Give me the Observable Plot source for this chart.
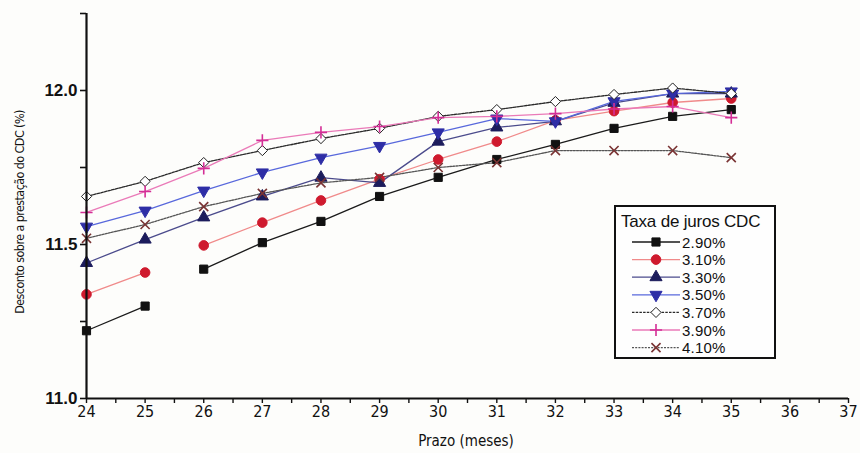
<!DOCTYPE html>
<html>
<head>
<meta charset="utf-8">
<script src="https://cdn.jsdelivr.net/npm/d3@7"></script>
<script src="https://cdn.jsdelivr.net/npm/@observablehq/plot@0.6"></script>
<style>
  html, body { margin: 0; padding: 0; background: #fdfdfb; }
  #wrap { position: relative; width: 860px; height: 453px; }
  #legend { position: absolute; left: 614px; top: 205px; }
</style>
</head>
<body>
<div id="wrap"></div>
<script>
// ---- data ----
const months = [24, 25, 26, 27, 28, 29, 30, 31, 32, 33, 34, 35];
const seriesNames = ["2.90%", "3.10%", "3.30%", "3.50%", "3.70%", "3.90%", "4.10%"];
const s290 = [11.22, 11.30, 11.42, 11.506, 11.575, 11.656, 11.718, 11.776, 11.825, 11.877, 11.916, 11.938];
const s310 = [11.338, 11.409, 11.497, 11.571, 11.643, 11.712, 11.776, 11.834, 11.903, 11.933, 11.961, 11.974];
const s330 = [11.44, 11.516, 11.588, 11.656, 11.717, 11.70, 11.834, 11.88, 11.90, 11.96, 11.99, 11.99];
const s350 = [11.558, 11.61, 11.675, 11.734, 11.782, 11.82, 11.864, 11.909, 11.90, 11.965, 11.99, 11.997];
const s370 = [11.656, 11.705, 11.766, 11.805, 11.844, 11.877, 11.916, 11.938, 11.964, 11.987, 12.008, 11.99];
const s390 = [11.604, 11.672, 11.747, 11.838, 11.864, 11.883, 11.912, 11.916, 11.925, 11.94, 11.948, 11.912];
const s410 = [11.52, 11.565, 11.623, 11.666, 11.70, 11.718, 11.75, 11.766, 11.805, 11.805, 11.805, 11.782];
const seriesValues = [s290, s310, s330, s350, s370, s390, s410];
// line breaks seen in the original (series, month after which the line is interrupted)
const gaps = [["2.90%", 25], ["3.10%", 25]];
const xTicks = [24, 25, 26, 27, 28, 29, 30, 31, 32, 33, 34, 35, 36, 37];
const yTicks = [11.0, 11.5, 12.0];
const legendTitle = "Taxa de juros CDC";
const xLabel = "Prazo (meses)";
const yLabel = "Desconto sobre a prestação do CDC (%)";

// ---- styles ----
const triangleDown = {
  draw(ctx, size) {
    const y = -Math.sqrt(size / (Math.sqrt(3) * 3));
    ctx.moveTo(0, -y * 2);
    ctx.lineTo(-Math.sqrt(3) * y, y);
    ctx.lineTo(Math.sqrt(3) * y, y);
    ctx.closePath();
  }
};
const styles = {
  "2.90%": {line: "#1a1a1a", dash: null, symbol: "square", fill: "#111", stroke: "#111", r: 4.6, d3sym: d3.symbolSquare},
  "3.10%": {line: "#f08a8a", dash: null, symbol: "circle", fill: "#cf1a2e", stroke: "#cf1a2e", r: 4.8, d3sym: d3.symbolCircle},
  "3.30%": {line: "#4b4b8c", dash: null, symbol: "triangle", fill: "#1c1c5c", stroke: "#1c1c5c", r: 4.5, d3sym: d3.symbolTriangle},
  "3.50%": {line: "#5868dc", dash: null, symbol: triangleDown, fill: "#2e2ea6", stroke: "#2e2ea6", r: 4.5, d3sym: triangleDown},
  "3.70%": {line: "#2a2a2a", dash: "2.5,1.2", symbol: "diamond2", fill: "white", stroke: "#222", r: 4.6, d3sym: d3.symbolDiamond2},
  "3.90%": {line: "#ea7ab8", dash: null, symbol: "plus", fill: "none", stroke: "#d42e96", r: 4.0, d3sym: d3.symbolPlus},
  "4.10%": {line: "#555", dash: "2,1.2", symbol: "times", fill: "none", stroke: "#7a3434", r: 4.2, d3sym: d3.symbolTimes}
};

// ---- rows ----
const rows = [];
seriesNames.forEach((name, si) => {
  let seg = 0;
  months.forEach((m, i) => {
    rows.push({series: name, x: m, y: seriesValues[si][i], seg: name + "#" + seg});
    if (gaps.some(([g, after]) => g === name && after === m)) seg++;
  });
});

const narrow = "'Liberation Sans Narrow', 'Arial Narrow', 'DejaVu Sans Condensed', sans-serif";
const sans = "'Liberation Sans', Arial, sans-serif";
const halves = d3.range(24, 37.01, 0.5);
const yMinor = [11.0, 11.25, 11.5, 11.75, 12.0, 12.25];

const marks = [];
// axis ticks
marks.push(Plot.axisX({ticks: halves, tickSize: 5, tickPadding: 2,
  tickFormat: d => Number.isInteger(d) ? String(d) : "",
  fontSize: 16, fontFamily: narrow, fill: "#111", stroke: "#111", strokeWidth: 1.4, label: null}));
marks.push(Plot.axisY({ticks: yMinor, tickSize: 6, tickPadding: 3,
  tickFormat: d => yTicks.includes(d) ? d3.format(".1f")(d) : "",
  fontSize: 17, fontWeight: "bold", fontFamily: sans,
  fill: "#111", stroke: "#111", strokeWidth: 1.6, label: null}));
// lines
seriesNames.forEach(name => {
  const st = styles[name];
  marks.push(Plot.line(rows.filter(d => d.series === name), {
    x: "x", y: "y", z: "seg", stroke: st.line, strokeWidth: 1.3,
    strokeDasharray: st.dash || undefined
  }));
});
// markers
seriesNames.forEach(name => {
  const st = styles[name];
  marks.push(Plot.dot(rows.filter(d => d.series === name), {
    x: "x", y: "y", symbol: st.symbol, r: st.r, fill: st.fill, stroke: st.stroke,
    strokeWidth: (st.fill === "none" ? 1.6 : 1.0)
  }));
});
// axis lines
marks.push(Plot.ruleX([24], {stroke: "#111", strokeWidth: 2.2}));
marks.push(Plot.ruleY([11], {stroke: "#111", strokeWidth: 2}));

const chart = Plot.plot({
  width: 860, height: 453,
  marginLeft: 86, marginRight: 12, marginTop: 13, marginBottom: 55,
  style: {background: "transparent", color: "#111", overflow: "visible"},
  x: {domain: [24, 37]},
  y: {domain: [11, 12.25]},
  marks
});
const wrap = document.getElementById("wrap");
wrap.appendChild(chart);

// axis titles as SVG text
const svg = d3.select(chart);
svg.append("text")
  .attr("x", 466).attr("y", 446).attr("text-anchor", "middle")
  .style("font-family", narrow).style("font-size", "15px").style("fill", "#111")
  .text(xLabel);
svg.append("text")
  .attr("transform", "translate(24,212) rotate(-90)").attr("text-anchor", "middle")
  .style("font-family", narrow).style("font-size", "12.5px").style("fill", "#111")
  .style("letter-spacing", "-0.6px")
  .text(yLabel);

// ---- legend ----
const lw = 162, lh = 154;
const leg = d3.select(wrap).append("svg").attr("id", "legend")
  .attr("width", lw).attr("height", lh);
leg.append("rect").attr("x", 1).attr("y", 1).attr("width", lw - 2).attr("height", lh - 2)
  .attr("fill", "#fefefe").attr("stroke", "#111").attr("stroke-width", 2);
leg.append("text").attr("x", 7).attr("y", 22)
  .style("font-family", sans).style("font-size", "17px")
  .style("letter-spacing", "-0.2px").style("fill", "#111").text(legendTitle);
seriesNames.forEach((name, i) => {
  const st = styles[name];
  const cy = 37 + i * 17.6;
  leg.append("line").attr("x1", 18).attr("x2", 66).attr("y1", cy).attr("y2", cy)
    .attr("stroke", st.line).attr("stroke-width", 1.3)
    .attr("stroke-dasharray", st.dash || null);
  leg.append("path").attr("transform", `translate(42,${cy})`)
    .attr("d", d3.symbol(st.d3sym, st.r * st.r * Math.PI)())
    .attr("fill", st.fill).attr("stroke", st.stroke)
    .attr("stroke-width", st.fill === "none" ? 1.6 : 1.0);
  leg.append("text").attr("x", 68).attr("y", cy + 5.5)
    .style("font-family", sans).style("font-size", "15px")
    .style("letter-spacing", "0.2px").style("fill", "#111").text(name);
});
</script>
</body>
</html>
